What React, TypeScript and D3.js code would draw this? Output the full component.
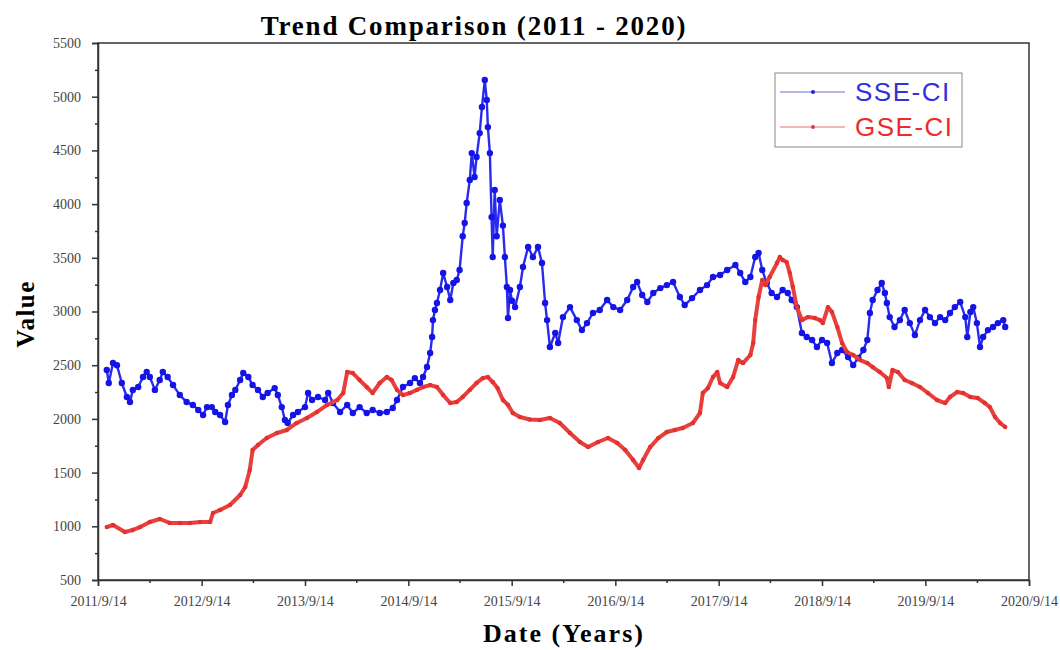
import React, { useEffect, useRef } from "react";
import * as d3 from "d3";

// values
const sseCI: [string, number][] = [
  ["2011-10-15", 2455], ["2011-10-22", 2334], ["2011-11-06", 2520], ["2011-11-20", 2500],
  ["2011-12-07", 2334], ["2011-12-25", 2204], ["2012-01-05", 2157], ["2012-01-15", 2270],
  ["2012-02-03", 2297], ["2012-02-20", 2390], ["2012-03-04", 2436], ["2012-03-15", 2390],
  ["2012-04-02", 2270], ["2012-04-19", 2362], ["2012-04-30", 2436], ["2012-05-17", 2390],
  ["2012-06-05", 2315], ["2012-06-29", 2222], ["2012-07-23", 2157], ["2012-08-14", 2130],
  ["2012-09-02", 2083], ["2012-09-19", 2036], ["2012-10-03", 2110], ["2012-10-20", 2110],
  ["2012-11-01", 2064], ["2012-11-18", 2036], ["2012-12-06", 1971], ["2012-12-16", 2130],
  ["2012-12-30", 2222], ["2013-01-11", 2270], ["2013-01-28", 2362], ["2013-02-08", 2427],
  ["2013-02-26", 2390], ["2013-03-13", 2315], ["2013-04-01", 2270], ["2013-04-18", 2204],
  ["2013-05-05", 2241], ["2013-05-30", 2287], ["2013-06-10", 2222], ["2013-06-24", 2110],
  ["2013-07-05", 1990], ["2013-07-15", 1962], ["2013-08-03", 2036], ["2013-08-20", 2064],
  ["2013-09-14", 2110], ["2013-09-25", 2241], ["2013-10-09", 2176], ["2013-10-30", 2204],
  ["2013-11-24", 2176], ["2013-12-05", 2241], ["2013-12-22", 2148], ["2014-01-16", 2064],
  ["2014-02-10", 2130], ["2014-03-02", 2055], ["2014-03-26", 2110], ["2014-04-20", 2055],
  ["2014-05-11", 2083], ["2014-06-05", 2055], ["2014-06-30", 2064], ["2014-07-21", 2101],
  ["2014-08-05", 2176], ["2014-08-26", 2297], ["2014-09-20", 2334], ["2014-10-07", 2380],
  ["2014-10-25", 2334], ["2014-11-05", 2390], ["2014-11-19", 2483], ["2014-11-30", 2613],
  ["2014-12-07", 2762], ["2014-12-10", 2920], ["2014-12-17", 3014], ["2014-12-24", 3079],
  ["2015-01-04", 3200], ["2015-01-15", 3358], ["2015-01-29", 3228], ["2015-02-09", 3107],
  ["2015-02-20", 3265], ["2015-03-04", 3293], ["2015-03-14", 3386], ["2015-03-25", 3700],
  ["2015-04-01", 3824], ["2015-04-08", 4010], ["2015-04-19", 4224], ["2015-04-26", 4475],
  ["2015-05-06", 4252], ["2015-05-13", 4438], ["2015-05-24", 4661], ["2015-06-01", 4904],
  ["2015-06-11", 5155], ["2015-06-18", 4969], ["2015-06-22", 4717], ["2015-06-29", 4475],
  ["2015-07-05", 3879], ["2015-07-09", 3507], ["2015-07-16", 4131], ["2015-07-23", 3700],
  ["2015-08-03", 4038], ["2015-08-14", 3800], ["2015-08-21", 3507], ["2015-08-28", 3228],
  ["2015-09-01", 2939], ["2015-09-08", 3200], ["2015-09-15", 3100], ["2015-09-26", 3041],
  ["2015-10-13", 3228], ["2015-10-24", 3414], ["2015-11-11", 3600], ["2015-11-28", 3507],
  ["2015-12-16", 3600], ["2015-12-30", 3451], ["2016-01-10", 3079], ["2016-01-17", 2920],
  ["2016-01-27", 2669], ["2016-02-15", 2800], ["2016-02-25", 2707], ["2016-03-13", 2948],
  ["2016-04-07", 3041], ["2016-05-01", 2920], ["2016-05-19", 2827], ["2016-06-06", 2892],
  ["2016-06-27", 2986], ["2016-07-21", 3014], ["2016-08-16", 3107], ["2016-09-07", 3041],
  ["2016-10-01", 3014], ["2016-10-26", 3107], ["2016-11-16", 3228], ["2016-11-30", 3274],
  ["2016-12-18", 3153], ["2017-01-05", 3088], ["2017-01-26", 3172], ["2017-02-20", 3218],
  ["2017-03-15", 3246], ["2017-04-06", 3274], ["2017-04-30", 3135], ["2017-05-17", 3060],
  ["2017-06-12", 3125], ["2017-07-10", 3200], ["2017-08-04", 3246], ["2017-08-25", 3321],
  ["2017-09-19", 3340], ["2017-10-14", 3386], ["2017-11-12", 3433], ["2017-11-29", 3358],
  ["2017-12-17", 3274], ["2018-01-04", 3321], ["2018-01-21", 3507], ["2018-02-02", 3544],
  ["2018-02-15", 3386], ["2018-03-03", 3265], ["2018-03-20", 3172], ["2018-04-08", 3135],
  ["2018-04-28", 3200], ["2018-05-16", 3172], ["2018-05-30", 3107], ["2018-06-17", 3041],
  ["2018-07-05", 2800], ["2018-07-22", 2762], ["2018-08-10", 2734], ["2018-08-27", 2669],
  ["2018-09-14", 2734], ["2018-10-02", 2707], ["2018-10-19", 2520], ["2018-11-07", 2613],
  ["2018-11-24", 2641], ["2018-12-15", 2576], ["2019-01-02", 2501], ["2019-01-20", 2567],
  ["2019-02-07", 2641], ["2019-02-21", 2734], ["2019-03-02", 2986], ["2019-03-12", 3107],
  ["2019-03-29", 3200], ["2019-04-13", 3265], ["2019-04-24", 3172], ["2019-05-01", 3079],
  ["2019-05-11", 2948], ["2019-05-28", 2855], ["2019-06-16", 2920], ["2019-07-03", 3014],
  ["2019-07-21", 2892], ["2019-08-08", 2781], ["2019-08-26", 2920], ["2019-09-13", 3014],
  ["2019-09-30", 2948], ["2019-10-18", 2892], ["2019-11-05", 2948], ["2019-11-23", 2920],
  ["2019-12-10", 2986], ["2019-12-27", 3041], ["2020-01-15", 3088], ["2020-02-02", 2948],
  ["2020-02-09", 2762], ["2020-02-20", 2995], ["2020-03-01", 3041], ["2020-03-14", 2892],
  ["2020-03-25", 2669], ["2020-04-05", 2762], ["2020-04-22", 2827], ["2020-05-10", 2855],
  ["2020-05-27", 2892], ["2020-06-15", 2920], ["2020-06-22", 2855],
];

const gseCI: [string, number][] = [
  ["2011-10-15", 993], ["2011-11-06", 1012], ["2011-12-18", 947], ["2012-01-15", 966],
  ["2012-02-10", 993], ["2012-03-15", 1040], ["2012-04-19", 1068], ["2012-05-24", 1031],
  ["2012-06-29", 1031], ["2012-08-04", 1031], ["2012-09-09", 1040], ["2012-10-14", 1040],
  ["2012-10-24", 1124], ["2012-11-18", 1152], ["2012-12-23", 1198], ["2013-01-28", 1291],
  ["2013-02-15", 1366], ["2013-03-03", 1524], ["2013-03-13", 1710], ["2013-04-01", 1757],
  ["2013-05-02", 1822], ["2013-06-07", 1869], ["2013-07-12", 1897], ["2013-08-16", 1962],
  ["2013-09-21", 2008], ["2013-10-26", 2064], ["2013-12-01", 2130], ["2014-01-06", 2176],
  ["2014-01-27", 2241], ["2014-02-10", 2436], ["2014-03-02", 2427], ["2014-03-26", 2362],
  ["2014-04-20", 2297], ["2014-05-11", 2241], ["2014-06-05", 2334], ["2014-06-30", 2390],
  ["2014-07-17", 2362], ["2014-08-05", 2270], ["2014-08-26", 2222], ["2014-09-20", 2241],
  ["2014-10-14", 2270], ["2014-11-05", 2297], ["2014-11-30", 2315], ["2014-12-24", 2297],
  ["2015-01-15", 2222], ["2015-02-09", 2148], ["2015-03-04", 2157], ["2015-03-25", 2204],
  ["2015-04-19", 2270], ["2015-05-13", 2334], ["2015-06-04", 2380], ["2015-06-22", 2390],
  ["2015-07-09", 2343], ["2015-07-26", 2287], ["2015-08-14", 2176], ["2015-09-01", 2130],
  ["2015-09-18", 2055], ["2015-10-13", 2018], ["2015-11-17", 1995], ["2015-12-23", 1990],
  ["2016-01-27", 2008], ["2016-03-02", 1962], ["2016-04-07", 1869], ["2016-05-12", 1785],
  ["2016-06-10", 1738], ["2016-07-15", 1785], ["2016-08-19", 1822], ["2016-09-21", 1775],
  ["2016-10-19", 1710], ["2016-11-16", 1617], ["2016-12-07", 1543], ["2016-12-21", 1617],
  ["2017-01-15", 1738], ["2017-02-13", 1822], ["2017-03-15", 1878], ["2017-04-12", 1897],
  ["2017-05-10", 1915], ["2017-06-15", 1962], ["2017-07-10", 2055], ["2017-07-20", 2241],
  ["2017-08-07", 2287], ["2017-08-25", 2390], ["2017-09-09", 2436], ["2017-09-19", 2334],
  ["2017-10-14", 2297], ["2017-11-04", 2390], ["2017-11-22", 2548], ["2017-12-09", 2520],
  ["2018-01-04", 2595], ["2018-01-14", 2707], ["2018-01-21", 2920], ["2018-02-02", 3135],
  ["2018-02-15", 3293], ["2018-02-26", 3246], ["2018-03-13", 3321], ["2018-04-08", 3451],
  ["2018-04-18", 3507], ["2018-04-28", 3479], ["2018-05-12", 3460], ["2018-05-23", 3358],
  ["2018-06-03", 3228], ["2018-06-17", 3041], ["2018-07-05", 2920], ["2018-07-26", 2948],
  ["2018-08-20", 2939], ["2018-09-07", 2920], ["2018-09-17", 2892], ["2018-10-05", 3041],
  ["2018-10-19", 2995], ["2018-11-07", 2855], ["2018-11-24", 2707], ["2018-12-11", 2623],
  ["2019-01-02", 2595], ["2019-01-27", 2548], ["2019-02-21", 2520], ["2019-03-12", 2483],
  ["2019-04-06", 2436], ["2019-05-01", 2380], ["2019-05-08", 2297], ["2019-05-21", 2455],
  ["2019-06-09", 2436], ["2019-07-03", 2362], ["2019-07-28", 2334], ["2019-08-26", 2297],
  ["2019-09-23", 2241], ["2019-10-25", 2176], ["2019-11-23", 2148], ["2019-12-10", 2204],
  ["2020-01-04", 2250], ["2020-01-25", 2241], ["2020-02-20", 2204], ["2020-03-17", 2194],
  ["2020-04-11", 2148], ["2020-04-29", 2110], ["2020-05-17", 2018], ["2020-06-04", 1962],
  ["2020-06-22", 1925],
];

const seriesNames = ["SSE-CI", "GSE-CI"];
const yTicks = [500, 1000, 1500, 2000, 2500, 3000, 3500, 4000, 4500, 5000, 5500];
const xTickLabels = [
  "2011/9/14", "2012/9/14", "2013/9/14", "2014/9/14", "2015/9/14",
  "2016/9/14", "2017/9/14", "2018/9/14", "2019/9/14", "2020/9/14",
];

export default function App() {
  const svgRef = useRef(null);

  useEffect(() => {
    document.body.style.margin = "0";
    const svg = d3.select(svgRef.current);
    svg.selectAll("*").remove();

    const left = 98, right = 1029, top = 43, bottom = 580;
    const parseDay = d3.timeParse("%Y-%m-%d");
    const parseTick = d3.timeParse("%Y/%m/%d");
    const xMajor = xTickLabels.map((s) => parseTick(s));
    const xMinor = xMajor.slice(0, -1).map((d) => d3.timeMonth.offset(d, 6));

    const x = d3.scaleTime().domain([xMajor[0], xMajor[xMajor.length - 1]]).range([left, right]);
    const y = d3.scaleLinear().domain([500, 5500]).range([bottom, top]);

    const serif = "'Liberation Serif', 'Times New Roman', serif";
    const axisColor = "#333";

    // frame
    svg.append("rect")
      .attr("x", left).attr("y", top)
      .attr("width", right - left).attr("height", bottom - top)
      .attr("fill", "none").attr("stroke", axisColor).attr("stroke-width", 1.5);

    // y axis
    const yMinor = yTicks.slice(0, -1).map((v) => v + 250);
    const gy = svg.append("g").attr("transform", `translate(${left},0)`);
    gy.call(d3.axisLeft(y).tickValues(yTicks).tickSize(6).tickPadding(11).tickFormat(d3.format("d")));
    svg.append("g").attr("transform", `translate(${left},0)`)
      .call(d3.axisLeft(y).tickValues(yMinor).tickSize(3).tickFormat(() => ""))
      .select(".domain").remove();

    // x axis
    const gx = svg.append("g").attr("transform", `translate(0,${bottom})`);
    gx.call(d3.axisBottom(x).tickValues(xMajor).tickSize(6).tickPadding(10)
      .tickFormat(d3.timeFormat("%Y/%-m/%d")));
    svg.append("g").attr("transform", `translate(0,${bottom})`)
      .call(d3.axisBottom(x).tickValues(xMinor).tickSize(3).tickFormat(() => ""))
      .select(".domain").remove();

    svg.selectAll(".domain").attr("stroke", axisColor).attr("stroke-width", 1.5);
    svg.selectAll(".tick line").attr("stroke", axisColor).attr("stroke-width", 1.5);
    svg.selectAll(".tick text")
      .attr("fill", "#444")
      .style("font-family", serif)
      .style("font-size", "14px");

    const line = d3.line<[Date, number]>().x((d) => x(d[0])).y((d) => y(d[1]));
    const sse = sseCI.map(([d, v]) => [parseDay(d), v] as [Date, number]);
    const gse = gseCI.map(([d, v]) => [parseDay(d), v] as [Date, number]);

    // SSE-CI
    svg.append("path").datum(sse).attr("d", line)
      .attr("fill", "none").attr("stroke", "#2a2aee").attr("stroke-width", 2.4)
      .attr("stroke-linejoin", "round");
    svg.append("g").selectAll("circle").data(sse).enter().append("circle")
      .attr("cx", (d) => x(d[0])).attr("cy", (d) => y(d[1])).attr("r", 3.2)
      .attr("fill", "#1414e6");

    // GSE-CI
    svg.append("path").datum(gse).attr("d", line)
      .attr("fill", "none").attr("stroke", "#e8403c").attr("stroke-width", 4)
      .attr("stroke-linejoin", "round");
    svg.append("g").selectAll("circle").data(gse).enter().append("circle")
      .attr("cx", (d) => x(d[0])).attr("cy", (d) => y(d[1])).attr("r", 2.2)
      .attr("fill", "#e53030");

    // title and axis labels
    svg.append("text").attr("x", 474).attr("y", 35).attr("text-anchor", "middle")
      .style("font-family", serif).style("font-weight", "bold").style("font-size", "27px")
      .style("letter-spacing", "1.8px")
      .text("Trend Comparison (2011 - 2020)");
    svg.append("text").attr("x", 564).attr("y", 642).attr("text-anchor", "middle")
      .style("font-family", serif).style("font-weight", "bold").style("font-size", "26px")
      .style("letter-spacing", "2px")
      .text("Date (Years)");
    svg.append("text").attr("transform", "translate(34,314) rotate(-90)")
      .attr("text-anchor", "middle")
      .style("font-family", serif).style("font-weight", "bold").style("font-size", "25px")
      .style("letter-spacing", "1.5px")
      .text("Value");

    // legend
    const legend = svg.append("g").attr("transform", "translate(775,73)");
    legend.append("rect").attr("width", 187).attr("height", 74)
      .attr("fill", "white").attr("stroke", "#888").attr("stroke-width", 1);
    const legendColors = [["#6a6ad0", "#2020d0", "#3030dd"], ["#e07070", "#d04040", "#ee2a2a"]];
    seriesNames.forEach((name, i) => {
      const cy = 19 + i * 35;
      const [lc, dc, tc] = legendColors[i];
      legend.append("line").attr("x1", 5).attr("x2", 70).attr("y1", cy).attr("y2", cy)
        .attr("stroke", lc).attr("stroke-width", 1);
      legend.append("circle").attr("cx", 38).attr("cy", cy).attr("r", 2).attr("fill", dc);
      legend.append("text").attr("x", 80).attr("y", cy + 9)
        .style("font-family", "'Liberation Sans', Arial, sans-serif").style("font-size", "26px")
        .style("letter-spacing", "1.5px")
        .attr("fill", tc).text(name);
    });
  }, []);

  return <svg ref={svgRef} width={1060} height={650} style={{ display: "block", background: "white" }} />;
}
